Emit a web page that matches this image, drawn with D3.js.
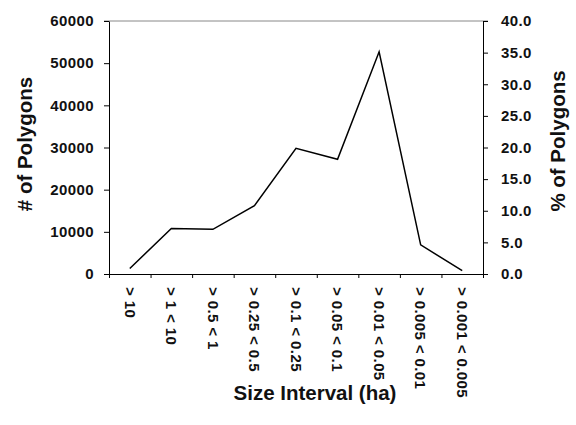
<!DOCTYPE html>
<html><head><meta charset="utf-8">
<script src="https://cdn.jsdelivr.net/npm/d3@7"></script>
<style>
body{margin:0;background:#fff;}
text{font-family:"Liberation Sans",Arial,Helvetica,sans-serif;font-weight:bold;}
</style></head>
<body><svg id="c" width="576" height="425"></svg>
<script>
const categories = ["> 10","> 1 < 10","> 0.5 < 1","> 0.25 < 0.5","> 0.1 < 0.25","> 0.05 < 0.1","> 0.01 < 0.05","> 0.005 < 0.01","> 0.001 < 0.005"];
const polygons = [1300, 10800, 10600, 16200, 29800, 27200, 52700, 6900, 800];
const leftTicks = [0,10000,20000,30000,40000,50000,60000];
const rightTicks = [0,5,10,15,20,25,30,35,40];

const svg = d3.select("#c");
const L=109, R=483, T=21, B=274;
const x = d3.scaleBand().domain(categories).range([L,R]);
const xe = d3.scaleLinear().domain([0,categories.length]).range([L,R]);
const y = d3.scaleLinear().domain([0,60000]).range([B,T]);
const y2 = d3.scaleLinear().domain([0,40]).range([B,T]);

// top gray line
svg.append("line").attr("x1",L-5).attr("x2",R+5).attr("y1",y(60000)).attr("y2",y(60000))
  .attr("stroke","#888").attr("stroke-width",1);

const ga = svg.append("g").attr("transform",`translate(${L},0)`)
  .call(d3.axisLeft(y).tickValues(leftTicks).tickSize(5).tickSizeOuter(0).tickPadding(10).tickFormat(d3.format("d")));
const gr = svg.append("g").attr("transform",`translate(${R},0)`)
  .call(d3.axisRight(y2).tickValues(rightTicks).tickSize(5).tickSizeOuter(0).tickPadding(13).tickFormat(d3.format(".1f")));
const gb = svg.append("g").attr("transform",`translate(0,${B})`)
  .call(d3.axisBottom(xe).tickValues(d3.range(categories.length+1)).tickSize(4).tickSizeOuter(0).tickFormat(""));
[ga,gr,gb].forEach(g=>{
  g.selectAll("path,line").attr("stroke","#000").attr("stroke-width",1);
  g.selectAll("text").attr("font-size",15).attr("fill","#111").style("letter-spacing","0.4px")
   .style("font-family","'Liberation Sans',Arial,sans-serif").style("font-weight","bold");
});
gb.select("path.domain").attr("d",`M${L-5},0.5H${R+5}`);

// x labels
svg.append("g").selectAll("text").data(categories).join("text")
  .attr("transform",d=>`translate(${x(d)+x.bandwidth()/2},${287}) rotate(90)`)
  .attr("dy","0.35em").attr("font-size",15).style("letter-spacing","0.4px").attr("fill","#111").text(d=>d);

// line
svg.append("path").datum(polygons)
  .attr("fill","none").attr("stroke","#000").attr("stroke-width",1.5)
  .attr("d",d3.line().x((d,i)=>x(categories[i])+x.bandwidth()/2).y(d=>y(d)));

// titles
svg.append("text").attr("transform","translate(32,144) rotate(-90)").attr("text-anchor","middle")
  .attr("font-size",20.5).attr("fill","#111").text("# of Polygons");
svg.append("text").attr("transform","translate(565,141) rotate(-90)").attr("text-anchor","middle")
  .attr("font-size",20.5).attr("fill","#111").text("% of Polygons");
svg.append("text").attr("x",315).attr("y",400).attr("text-anchor","middle")
  .attr("font-size",20.5).attr("fill","#111").text("Size Interval (ha)");
</script></body></html>
